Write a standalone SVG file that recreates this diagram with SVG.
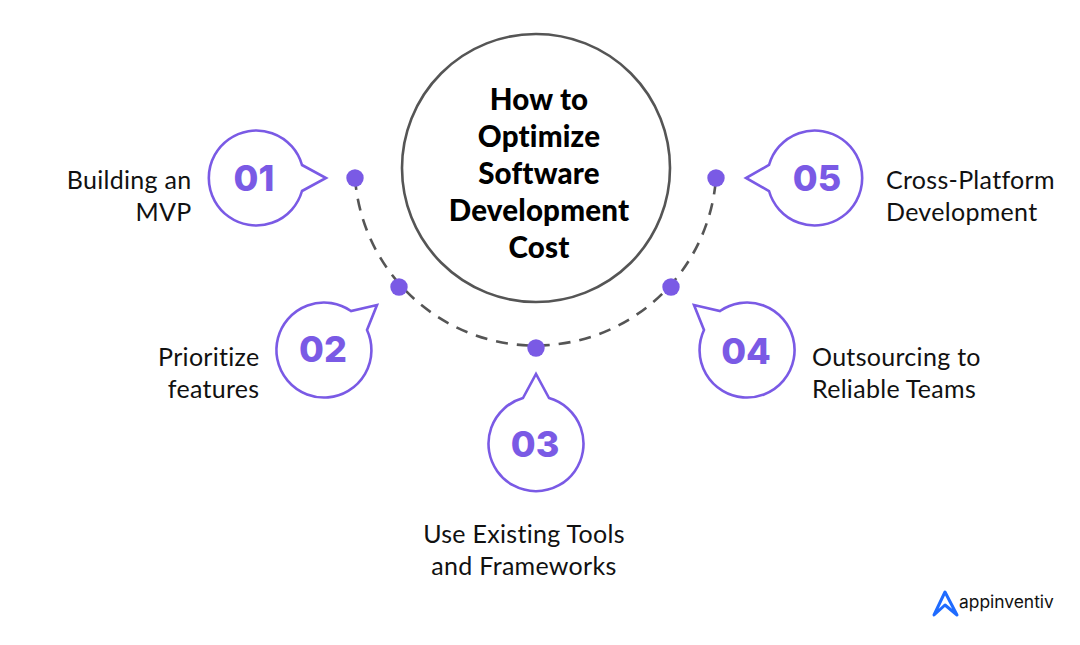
<svg xmlns="http://www.w3.org/2000/svg" width="1080" height="645" viewBox="0 0 1080 645">
<style>
.bubble{fill:#fff;stroke:#7a5ae5;stroke-width:2.6;stroke-linejoin:miter}
.num{font-family:Inter,"Liberation Sans",sans-serif;font-weight:800;font-size:36px;fill:#7a5ae5;text-anchor:middle}
.label{font-family:Lato,"Noto Sans",sans-serif;font-size:25px;letter-spacing:.3px;fill:#111}
.title{font-family:Lato,"Noto Sans",sans-serif;font-weight:900;font-size:29.5px;letter-spacing:.2px;fill:#000;text-anchor:middle}
.dot{fill:#7a5ae5}
.end{text-anchor:end}.mid{text-anchor:middle}
</style>
<rect width="1080" height="645" fill="#fff"/>
<g id="connectors">
<path d="M355 178A181 181 0 0 0 716 178" fill="none" stroke="#555" stroke-width="2.6" stroke-dasharray="12 9"/>
</g>
<g id="center">
<circle cx="536" cy="168" r="134" fill="#fff" stroke="#555" stroke-width="2.6"/>
<text class="title"><tspan x="539" y="110">How to</tspan><tspan x="539" y="147">Optimize</tspan><tspan x="539" y="184">Software</tspan><tspan x="539" y="221">Development</tspan><tspan x="539" y="258">Cost</tspan></text>
</g>
<g id="node-01">
<circle class="dot" cx="355" cy="178" r="8.7"/>
<path class="bubble" d="M302 165A47.5 47.5 0 1 0 302 191L326 178Z"/>
<text class="num" x="254" y="191">01</text>
<text class="label end"><tspan x="191.500" y="188.500">Building an</tspan><tspan x="191.500" y="220.500">MVP</tspan></text>
</g>
<g id="node-02">
<circle class="dot" cx="399" cy="287" r="8.7"/>
<path class="bubble" d="M351 311A47.5 47.5 0 1 0 367 330L377 305Z"/>
<text class="num" x="323" y="362">02</text>
<text class="label end"><tspan x="259.500" y="365.500">Prioritize</tspan><tspan x="259.500" y="397.500">features</tspan></text>
</g>
<g id="node-03">
<circle class="dot" cx="536" cy="348" r="8.7"/>
<path class="bubble" d="M523 398A47.5 47.5 0 1 0 549 398L536 374Z"/>
<text class="num" x="535" y="457">03</text>
<text class="label mid"><tspan x="524" y="542.500">Use Existing Tools</tspan><tspan x="524" y="574.500">and Frameworks</tspan></text>
</g>
<g id="node-04">
<circle class="dot" cx="671" cy="287" r="8.7"/>
<path class="bubble" d="M720 311A47.5 47.5 0 1 1 704 330L694 305Z"/>
<text class="num" x="746" y="364">04</text>
<text class="label"><tspan x="812" y="365.500">Outsourcing to</tspan><tspan x="812" y="397.500">Reliable Teams</tspan></text>
</g>
<g id="node-05">
<circle class="dot" cx="716" cy="178" r="8.7"/>
<path class="bubble" d="M769 165A47.5 47.5 0 1 1 769 191L746 178Z"/>
<text class="num" x="817" y="191">05</text>
<text class="label"><tspan x="886" y="188.500">Cross-Platform</tspan><tspan x="886" y="220.500">Development</tspan></text>
</g>
<g id="logo">
<path d="M934 615L945 592L957 615L945 605Z" fill="none" stroke="#1f6bff" stroke-width="3" stroke-linejoin="round"/>
<text x="959" y="608" font-family="Inter,sans-serif" font-size="17.400" font-weight="400" fill="#111">appinventiv</text>
</g>
</svg>
